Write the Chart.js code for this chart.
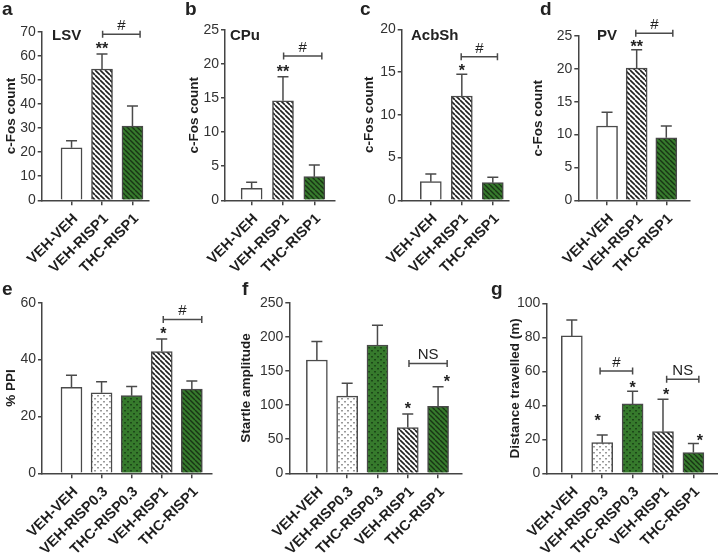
<!DOCTYPE html>
<html>
<head>
<meta charset="utf-8">
<script src="https://cdn.jsdelivr.net/npm/chart.js@4.4.0/dist/chart.umd.min.js"></script>
<style>
    body { margin: 0; background: #fff; width: 718px; height: 557px; position: relative; overflow: hidden; }
    .panel { position: absolute; }
</style>
</head>
<body>
<div class="panel" style="left:0px;top:0px"><canvas id="chartA" width="160" height="280"></canvas></div>
<div class="panel" style="left:180px;top:0px"><canvas id="chartB" width="170" height="280"></canvas></div>
<div class="panel" style="left:355px;top:0px"><canvas id="chartC" width="165" height="280"></canvas></div>
<div class="panel" style="left:525px;top:0px"><canvas id="chartD" width="185" height="280"></canvas></div>
<div class="panel" style="left:0px;top:280px"><canvas id="chartE" width="230" height="277"></canvas></div>
<div class="panel" style="left:235px;top:280px"><canvas id="chartF" width="235" height="277"></canvas></div>
<div class="panel" style="left:475px;top:280px"><canvas id="chartG" width="243" height="277"></canvas></div>
<script>
// Groups
const labels3 = ['VEH-VEH', 'VEH-RISP1', 'THC-RISP1'];
const labels5 = ['VEH-VEH', 'VEH-RISP0.3', 'THC-RISP0.3', 'VEH-RISP1', 'THC-RISP1'];

// c-Fos counts (mean and SEM)
const lsvMean = [21.8, 54.5, 30.8];
const lsvSem = [2.9, 6.2, 8.3];
const cpuMean = [1.76, 14.6, 3.47];
const cpuSem = [0.88, 3.55, 1.71];
const acbMean = [2.18, 12.2, 2.06];
const acbSem = [0.9, 2.55, 0.63];
const pvMean = [11.3, 20.1, 9.5];
const pvSem = [2.1, 2.8, 1.8];

// Behaviour (mean and SEM)
const ppiMean = [30.2, 28.3, 27.3, 42.8, 29.6];
const ppiSem = [4.3, 3.9, 3.2, 4.4, 2.9];
const startleMean = [166, 113, 188, 67, 98];
const startleSem = [27, 19, 29, 20, 29];
const distMean = [80.8, 18.0, 40.8, 24.5, 12.2];
const distSem = [9.4, 4.5, 7.4, 19, 5.4];

// Y tick labels
const lsvTicks = [0, 10, 20, 30, 40, 50, 60, 70];
const cpuTicks = [0, 5, 10, 15, 20, 25];
const acbTicks = [0, 5, 10, 15, 20];
const pvTicks = [0, 5, 10, 15, 20, 25];
const ppiTicks = [0, 20, 40, 60];
const startleTicks = [0, 50, 100, 150, 200, 250];
const distTicks = [0, 20, 40, 60, 80, 100];

// Significance marks (group position, value)
const lsvStars = [{at: 2, y: 64.5, text: '**'}];
const lsvBrackets = [{from: 2.02, to: 3.25, y: 68.9, text: '#'}];
const cpuStars = [{at: 2, y: 19.4, text: '**'}];
const cpuBrackets = [{from: 2.02, to: 3.24, y: 21.2, text: '#'}];
const acbStars = [{at: 2, y: 15.6, text: '*'}];
const acbBrackets = [{from: 1.98, to: 3.15, y: 16.8, text: '#'}];
const pvStars = [{at: 2, y: 24.0, text: '**'}];
const pvBrackets = [{from: 1.97, to: 3.22, y: 25.4, text: '#'}];
const ppiStars = [{at: 4.05, y: 50.4, text: '*'}];
const ppiBrackets = [{from: 4.05, to: 5.33, y: 54.1, text: '#'}];
const startleStars = [{at: 4, y: 100, text: '*'}, {at: 5.29, y: 140, text: '*'}];
const startleBrackets = [{from: 4.04, to: 5.3, y: 161, text: 'NS'}];
const distStars = [{at: 1.85, y: 33.3, text: '*'}, {at: 3, y: 52.4, text: '*'}, {at: 4.1, y: 48.4, text: '*'}, {at: 5.21, y: 21.6, text: '*'}];
const distBrackets = [{from: 1.93, to: 3.0, y: 60.2, text: '#'}, {from: 4.12, to: 5.18, y: 55.3, text: 'NS'}];

const FONT = '"Liberation Sans", Arial, sans-serif';
Chart.defaults.font.family = FONT;

// Bar fills
function hatch(bg, fg, lw) {
    const s = 5;
    const tile = document.createElement('canvas');
    tile.width = tile.height = s;
    const g = tile.getContext('2d');
    g.fillStyle = bg;
    g.fillRect(0, 0, s, s);
    g.strokeStyle = fg;
    g.lineWidth = lw;
    g.beginPath();
    [-s, 0, s].forEach(o => { g.moveTo(o, 0); g.lineTo(o + s, s); });
    g.stroke();
    return g.createPattern(tile, 'repeat');
}

function dots(bg, fg) {
    const s = 6;
    const tile = document.createElement('canvas');
    tile.width = tile.height = s;
    const g = tile.getContext('2d');
    g.fillStyle = bg;
    g.fillRect(0, 0, s, s);
    g.fillStyle = fg;
    g.fillRect(1, 1, 2, 1);
    g.fillRect(1.5, 2, 1, 1);
    g.fillRect(4, 4, 2, 1);
    g.fillRect(4.5, 5, 1, 1);
    return g.createPattern(tile, 'repeat');
}

const GREEN = 'rgb(54,122,44)';
const fills = {
    'VEH-VEH': '#ffffff',
    'VEH-RISP0.3': dots('#ffffff', '#9a9a9a'),
    'THC-RISP0.3': dots(GREEN, 'rgb(28,72,24)'),
    'VEH-RISP1': hatch('#ffffff', '#1e1e1e', 1.6),
    'THC-RISP1': hatch(GREEN, 'rgb(24,52,20)', 1.4)
};

// Error bars, significance marks, panel letters and region names
const annotate = {
    id: 'annotate',
    afterDatasetsDraw(chart, args, o) {
        const {ctx} = chart;
        const xs = chart.scales.x;
        const ys = chart.scales.y;
        ctx.save();
        ctx.strokeStyle = '#4a4a4a';
        ctx.lineWidth = 1.5;
        chart.data.datasets[0].data.forEach((d, i) => {
            const x = xs.getPixelForValue(d.x);
            const y0 = ys.getPixelForValue(d.y);
            const y1 = ys.getPixelForValue(d.y + o.sem[i]);
            ctx.beginPath();
            ctx.moveTo(x, y0);
            ctx.lineTo(x, y1);
            ctx.moveTo(x - 5.5, y1);
            ctx.lineTo(x + 5.5, y1);
            ctx.stroke();
        });

        ctx.fillStyle = '#222';
        ctx.textAlign = 'center';
        ctx.textBaseline = 'alphabetic';
        o.brackets.forEach(b => {
            const x1 = xs.getPixelForValue(b.from);
            const x2 = xs.getPixelForValue(b.to);
            const y = ys.getPixelForValue(b.y);
            ctx.beginPath();
            ctx.moveTo(x1, y);
            ctx.lineTo(x2, y);
            ctx.moveTo(x1, y - 3.5);
            ctx.lineTo(x1, y + 3.5);
            ctx.moveTo(x2, y - 3.5);
            ctx.lineTo(x2, y + 3.5);
            ctx.stroke();
            ctx.font = '15px ' + FONT;
            ctx.fillText(b.text, (x1 + x2) / 2, y - 4);
        });
        ctx.font = 'bold 16px ' + FONT;
        o.stars.forEach(s => {
            ctx.fillText(s.text, xs.getPixelForValue(s.at), ys.getPixelForValue(s.y) + 9);
        });

        ctx.textAlign = 'left';
        ctx.font = 'bold 19px ' + FONT;
        ctx.fillText(o.letter, o.letterX, 15);
        if (o.title) {
            ctx.font = 'bold 15px ' + FONT;
            ctx.fillText(o.title, o.titleX, 39.5);
        }
        ctx.restore();
    }
};

function makePanel(id, p) {
    new Chart(document.getElementById(id), {
        type: 'bar',
        data: {
            datasets: [{
                data: p.mean.map((v, i) => ({x: i + 1, y: v})),
                backgroundColor: p.labels.map(l => fills[l]),
                borderColor: '#4a4a4a',
                borderWidth: 1.5,
                barThickness: 21
            }]
        },
        options: {
            responsive: false,
            animation: false,
            devicePixelRatio: 1,
            layout: {
                padding: {top: p.top, right: p.right, left: 0, bottom: 0}
            },
            scales: {
                x: {
                    type: 'linear',
                    min: p.xMin,
                    max: p.xMax,
                    offset: false,
                    afterBuildTicks: s => { s.ticks = p.labels.map((l, i) => ({value: i + 1})); },
                    afterFit: s => { s.height = p.xHeight; },
                    grid: {offset: false, drawOnChartArea: false, tickLength: 5, color: '#444', lineWidth: 1.5},
                    border: {color: '#444', width: 1.5},
                    ticks: {
                        autoSkip: false,
                        minRotation: 45,
                        maxRotation: 45,
                        padding: 5,
                        labelOffset: 4,
                        color: '#1e1e1e',
                        font: {size: 14.5, weight: 'bold'},
                        callback: (v, i) => p.labels[i]
                    }
                },
                y: {
                    min: 0,
                    max: p.yTicks[p.yTicks.length - 1],
                    afterBuildTicks: s => { s.ticks = p.yTicks.map(v => ({value: v})); },
                    afterFit: s => { s.width = p.yWidth; },
                    grid: {drawOnChartArea: false, tickLength: 4, color: '#444', lineWidth: 1.5},
                    border: {color: '#444', width: 1.5},
                    ticks: {padding: 2, color: '#333', font: {size: 14}},
                    title: {
                        display: true,
                        text: p.yTitle,
                        color: '#1e1e1e',
                        font: {size: 13.5, weight: 'bold'},
                        padding: {top: p.titlePad, bottom: 0}
                    }
                }
            },
            plugins: {
                legend: {display: false},
                tooltip: {enabled: false},
                annotate: {
                    sem: p.sem,
                    stars: p.stars,
                    brackets: p.brackets,
                    letter: p.letter,
                    letterX: p.letterX,
                    title: p.title,
                    titleX: p.titleX
                }
            }
        },
        plugins: [annotate]
    });
}

makePanel('chartA', {
    labels: labels3, mean: lsvMean, sem: lsvSem, yTicks: lsvTicks, stars: lsvStars, brackets: lsvBrackets,
    yTitle: 'c-Fos count', letter: 'a', letterX: 2, title: 'LSV', titleX: 52,
    top: 31.7, right: 11.7, yWidth: 41.7, xHeight: 79.7, xMin: 0.02, xMax: 3.52, titlePad: 3
});
makePanel('chartB', {
    labels: labels3, mean: cpuMean, sem: cpuSem, yTicks: cpuTicks, stars: cpuStars, brackets: cpuBrackets,
    yTitle: 'c-Fos count', letter: 'b', letterX: 5, title: 'CPu', titleX: 50,
    top: 30, right: 15, yWidth: 45, xHeight: 79.7, xMin: 0.15, xMax: 3.66, titlePad: 6
});
makePanel('chartC', {
    labels: labels3, mean: acbMean, sem: acbSem, yTicks: acbTicks, stars: acbStars, brackets: acbBrackets,
    yTitle: 'c-Fos count', letter: 'c', letterX: 5, title: 'AcbSh', titleX: 56,
    top: 29.3, right: 11.7, yWidth: 46.7, xHeight: 79.7, xMin: 0.06, xMax: 3.5, titlePad: 6
});
makePanel('chartD', {
    labels: labels3, mean: pvMean, sem: pvSem, yTicks: pvTicks, stars: pvStars, brackets: pvBrackets,
    yTitle: 'c-Fos count', letter: 'd', letterX: 15, title: 'PV', titleX: 72,
    top: 36, right: 20, yWidth: 53.3, xHeight: 79.7, xMin: 0.03, xMax: 3.8, titlePad: 5
});
makePanel('chartE', {
    labels: labels5, mean: ppiMean, sem: ppiSem, yTicks: ppiTicks, stars: ppiStars, brackets: ppiBrackets,
    yTitle: '% PPI', letter: 'e', letterX: 2, title: '', titleX: 0,
    top: 22.7, right: 18, yWidth: 42, xHeight: 83.7, xMin: 0.02, xMax: 5.67, titlePad: 3
});
makePanel('chartF', {
    labels: labels5, mean: startleMean, sem: startleSem, yTicks: startleTicks, stars: startleStars, brackets: startleBrackets,
    yTitle: 'Startle amplitude', letter: 'f', letterX: 7, title: '', titleX: 0,
    top: 22.7, right: 8.3, yWidth: 54.3, xHeight: 83.7, xMin: 0.09, xMax: 5.78, titlePad: 3
});
makePanel('chartG', {
    labels: labels5, mean: distMean, sem: distSem, yTicks: distTicks, stars: distStars, brackets: distBrackets,
    yTitle: 'Distance travelled (m)', letter: 'g', letterX: 16, title: '', titleX: 0,
    top: 23.3, right: 0, yWidth: 71.3, xHeight: 83.7, xMin: 0.16, xMax: 5.81, titlePad: 32
});
</script>
</body>
</html>
